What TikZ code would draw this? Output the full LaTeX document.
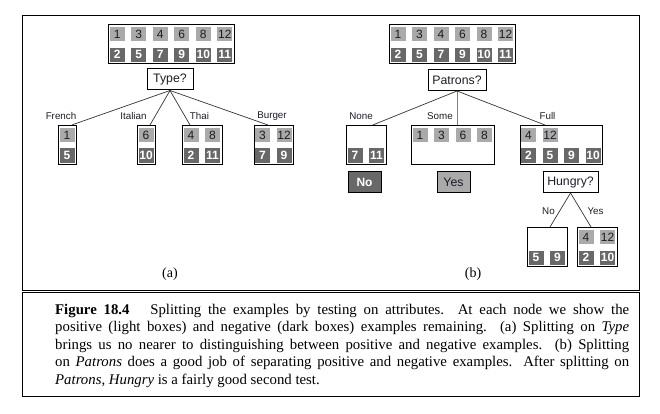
\documentclass[tikz,border=0pt]{standalone}
\usepackage{fontspec}
\setmainfont{Liberation Serif}
\newfontfamily\diagfont{Liberation Sans}
\usetikzlibrary{calc}
\definecolor{lightcell}{RGB}{170,170,170}
\definecolor{darkcell}{RGB}{104,104,104}
\definecolor{inkblue}{RGB}{28,28,40}
\tikzset{
  exbox/.style={draw=black, line width=1pt, minimum height=39pt, inner sep=0pt, anchor=north west},
  lcell/.style={fill=lightcell, minimum width=15pt, minimum height=14pt, inner sep=0pt, font=\diagfont\fontsize{12}{12}\selectfont, text=inkblue},
  dcell/.style={fill=darkcell, minimum width=15pt, minimum height=14pt, inner sep=0pt, font=\diagfont\bfseries\fontsize{12}{12}\selectfont, text=white},
  qbox/.style={draw, line width=1pt, minimum height=21pt, inner sep=0pt, font=\diagfont\fontsize{12.3}{13}\selectfont, text=inkblue},
  elabel/.style={font=\diagfont\fontsize{9.8}{11}\selectfont, text=inkblue, inner sep=0pt},
  edgeline/.style={draw=black!80, line width=0.7pt},
  framebox/.style={draw, line width=0.9pt},
  sublabel/.style={font=\fontsize{14}{16}\selectfont, inner sep=0pt},
}
\newcommand{\exbox}[5]{%
  \node[exbox, minimum width={#4*21.5pt-3.5pt}] (#1) at (#2,#3) {};
  \foreach \ecol/\erow/\elab in {#5} {
    \ifnum\erow=0
      \node[lcell] (#1-\ecol-\erow) at ($(#1.north west)+({9+21.5*\ecol},10)$) {\elab};
    \else
      \node[dcell] (#1-\ecol-\erow) at ($(#1.north west)+({9+21.5*\ecol},30.5)$) {\elab};
    \fi
  }
}
\begin{document}
\begin{tikzpicture}[x=1pt,y=-1pt]
\useasboundingbox (0,0) rectangle (660,414);
% frames
\draw[framebox] (22.3,15.3) rectangle (639.3,290);
\draw[framebox] (22.3,292.3) rectangle (639.3,396);
% (a)
\exbox{topA}{108.3}{24.3}{6}{0/0/1,1/0/3,2/0/4,3/0/6,4/0/8,5/0/12,0/1/2,1/1/5,2/1/7,3/1/9,4/1/10,5/1/11}
\node[qbox, minimum width=46pt] (type) at (170,79.5) {Type?};
\exbox{french}{58}{125}{1}{0/0/1,0/1/5}
\exbox{italian}{137}{125}{1}{0/0/6,0/1/10}
\exbox{thai}{182}{125}{2}{0/0/4,1/0/8,0/1/2,1/1/11}
\exbox{burger}{253.5}{125}{2}{0/0/3,1/0/12,0/1/7,1/1/9}
\draw[edgeline] (type.south) -- ([xshift=13.7pt]french.north west);
\draw[edgeline] (type.south) -- ([xshift=13pt]italian.north west);
\draw[edgeline] (type.south) -- ([xshift=8pt]thai.north west);
\draw[edgeline] (type.south) -- ([xshift=14.5pt]burger.north west);
\node[elabel] (lfrench) at (61,116) {French};
\node[elabel] (litalian) at (133.5,116) {Italian};
\node[elabel] (lthai) at (199.5,116) {Thai};
\node[elabel] (lburger) at (272,116) {Burger};
\node[sublabel] (suba) at (170,274) {(a)};
% (b)
\exbox{topB}{389}{24.3}{6}{0/0/1,1/0/3,2/0/4,3/0/6,4/0/8,5/0/12,0/1/2,1/1/5,2/1/7,3/1/9,4/1/10,5/1/11}
\node[qbox, minimum width=58pt] (patrons) at (457,80) {Patrons?};
\exbox{none}{346}{125}{2}{0/1/7,1/1/11}
\exbox{some}{411}{125}{4}{0/0/1,1/0/3,2/0/6,3/0/8}
\exbox{full}{519.5}{125}{4}{0/0/4,1/0/12,0/1/2,1/1/5,2/1/9,3/1/10}
\draw[edgeline] (patrons.south) -- ([xshift=26.7pt]none.north west);
\draw[edgeline, draw=black!50] (patrons.south) -- (patrons.south |- some.north);
\draw[edgeline] (patrons.south) -- ([xshift=25.5pt]full.north west);
\node[elabel] (lnone) at (361,116) {None};
\node[elabel] (lsome) at (440,116) {Some};
\node[elabel] (lfull) at (547.5,116) {Full};
\node[qbox, minimum width=33pt, fill=darkcell, text=white, font=\diagfont\bfseries\fontsize{12}{13}\selectfont] (nobox) at (364.5,182) {No};
\node[qbox, minimum width=33pt, fill=lightcell] (yesbox) at (453.5,182) {Yes};
\node[qbox, minimum width=55pt] (hungry) at (570.5,182) {Hungry?};
\exbox{hno}{527}{227}{2}{0/1/5,1/1/9}
\exbox{hyes}{577}{227}{2}{0/0/4,1/0/12,0/1/2,1/1/10}
\draw[edgeline] (hungry.south) -- ([xshift=23pt]hno.north west);
\draw[edgeline] (hungry.south) -- ([xshift=14pt]hyes.north west);
\node[elabel] (lno) at (548.5,211) {No};
\node[elabel] (lyes) at (595.5,211) {Yes};
\node[sublabel] (subb) at (473,274) {(b)};
% caption
\node[anchor=north west, inner sep=0pt, text width=574pt, align=justify, font=\fontsize{14.8}{17.5}\selectfont] (caption) at (55,304)
{\textbf{Figure 18.4}\hspace{1.4em}Splitting the examples by testing on attributes.\ \ At each node we show the\linebreak
positive (light boxes) and negative (dark boxes) examples remaining. (a) Splitting on \textit{Type}\linebreak
brings us no nearer to distinguishing between positive and negative examples. (b) Splitting\linebreak
on \textit{Patrons} does a good job of separating positive and negative examples. After splitting on\linebreak
\textit{Patrons}, \textit{Hungry} is a fairly good second test.};
\end{tikzpicture}
\end{document}
